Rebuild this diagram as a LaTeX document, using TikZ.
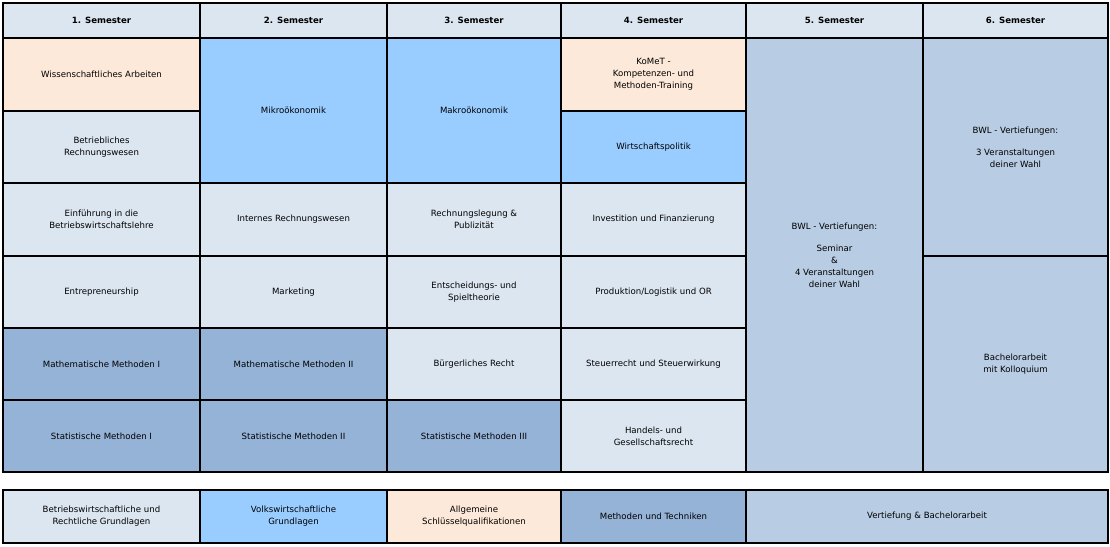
\documentclass[tikz,border=0pt]{standalone}
\usepackage{fontspec}
\setmainfont{DejaVu Sans}
\definecolor{grund}{HTML}{DCE6F1}
\definecolor{vwl}{HTML}{99CCFF}
\definecolor{schluessel}{HTML}{FDE9D9}
\definecolor{methoden}{HTML}{95B3D7}
\definecolor{vertiefung}{HTML}{B8CCE4}
\tikzset{
  cell/.style={draw=black, line width=1.2pt, inner sep=0pt, align=center,
    font=\fontsize{8.6}{12}\selectfont},
  kopf/.style={cell, fill=grund, font=\fontsize{8.6}{12}\selectfont\bfseries}
}
% \cell[style]{name}{x1}{y1}{x2}{y2}{text}
\newcommand{\cell}[7][cell]{%
  \node[#1, fill=#2, minimum width={(#5-#3)*1pt}, minimum height={(#6-#4)*1pt}]
    (#7) at ({(#3+#5)/2},{(#4+#6)/2}) {\cellt};}
\begin{document}
\begin{tikzpicture}[x=1pt,y=-1pt]
  \useasboundingbox[fill=white] (0,0) rectangle (1110,546);
%% header
  \foreach \xa/\xb/\n in {3/200/1,200/387/2,387/561/3,561/746/4,746/923/5,923/1108/6}
    \node[kopf, minimum width={(\xb-\xa)*1pt}, minimum height=35pt] (s\n) at ({(\xa+\xb)/2},20.5) {\n. Semester};
%% semester 1
  \node[cell, fill=schluessel, minimum width=197pt, minimum height=73pt] (wiss) at (101.5,74.5) {Wissenschaftliches Arbeiten};
  \node[cell, fill=grund, minimum width=197pt, minimum height=72pt] (rewe) at (101.5,147) {Betriebliches\\Rechnungswesen};
  \node[cell, fill=grund, minimum width=197pt, minimum height=73pt] (einf) at (101.5,219.5) {Einführung in die\\Betriebswirtschaftslehre};
  \node[cell, fill=grund, minimum width=197pt, minimum height=72pt] (entre) at (101.5,292) {Entrepreneurship};
  \node[cell, fill=methoden, minimum width=197pt, minimum height=72pt] (mathA) at (101.5,364) {Mathematische Methoden I};
  \node[cell, fill=methoden, minimum width=197pt, minimum height=72pt] (statA) at (101.5,436) {Statistische Methoden I};
%% semester 2
  \node[cell, fill=vwl, minimum width=187pt, minimum height=145pt] (mikro) at (293.5,110.5) {Mikroökonomik};
  \node[cell, fill=grund, minimum width=187pt, minimum height=73pt] (intrewe) at (293.5,219.5) {Internes Rechnungswesen};
  \node[cell, fill=grund, minimum width=187pt, minimum height=72pt] (mark) at (293.5,292) {Marketing};
  \node[cell, fill=methoden, minimum width=187pt, minimum height=72pt] (mathB) at (293.5,364) {Mathematische Methoden II};
  \node[cell, fill=methoden, minimum width=187pt, minimum height=72pt] (statB) at (293.5,436) {Statistische Methoden II};
%% semester 3
  \node[cell, fill=vwl, minimum width=174pt, minimum height=145pt] (makro) at (474,110.5) {Makroökonomik};
  \node[cell, fill=grund, minimum width=174pt, minimum height=73pt] (rlegung) at (474,219.5) {Rechnungslegung \&\\Publizität};
  \node[cell, fill=grund, minimum width=174pt, minimum height=72pt] (spiel) at (474,292) {Entscheidungs- und\\Spieltheorie};
  \node[cell, fill=grund, minimum width=174pt, minimum height=72pt] (buerg) at (474,364) {Bürgerliches Recht};
  \node[cell, fill=methoden, minimum width=174pt, minimum height=72pt] (statC) at (474,436) {Statistische Methoden III};
%% semester 4
  \node[cell, fill=schluessel, minimum width=185pt, minimum height=73pt] (komet) at (653.5,74.5) {KoMeT -\\Kompetenzen- und\\Methoden-Training};
  \node[cell, fill=vwl, minimum width=185pt, minimum height=72pt] (wipo) at (653.5,147) {Wirtschaftspolitik};
  \node[cell, fill=grund, minimum width=185pt, minimum height=73pt] (invest) at (653.5,219.5) {Investition und Finanzierung};
  \node[cell, fill=grund, minimum width=185pt, minimum height=72pt] (prod) at (653.5,292) {Produktion/Logistik und OR};
  \node[cell, fill=grund, minimum width=185pt, minimum height=72pt] (steuer) at (653.5,364) {Steuerrecht und Steuerwirkung};
  \node[cell, fill=grund, minimum width=185pt, minimum height=72pt] (handel) at (653.5,436) {Handels- und\\Gesellschaftsrecht};
%% semester 5 und 6
  \node[cell, fill=vertiefung, minimum width=177pt, minimum height=434pt] (vertA) at (834.5,255) {BWL - Vertiefungen:\\[1.2em]Seminar\\\&\\4 Veranstaltungen\\deiner Wahl};
  \node[cell, fill=vertiefung, minimum width=185pt, minimum height=218pt] (vertB) at (1015.5,147) {BWL - Vertiefungen:\\[1.2em]3 Veranstaltungen\\deiner Wahl};
  \node[cell, fill=vertiefung, minimum width=185pt, minimum height=216pt] (bach) at (1015.5,364) {Bachelorarbeit\\mit Kolloquium};
%% legende
  \node[cell, fill=grund, minimum width=197pt, minimum height=53pt] (lgrund) at (101.5,516.5) {Betriebswirtschaftliche und\\Rechtliche Grundlagen};
  \node[cell, fill=vwl, minimum width=187pt, minimum height=53pt] (lvwl) at (293.5,516.5) {Volkswirtschaftliche\\Grundlagen};
  \node[cell, fill=schluessel, minimum width=174pt, minimum height=53pt] (lschl) at (474,516.5) {Allgemeine\\Schlüsselqualifikationen};
  \node[cell, fill=methoden, minimum width=185pt, minimum height=53pt] (lmeth) at (653.5,516.5) {Methoden und Techniken};
  \node[cell, fill=vertiefung, minimum width=362pt, minimum height=53pt] (lvert) at (927,516.5) {Vertiefung \& Bachelorarbeit};
\end{tikzpicture}
\end{document}
